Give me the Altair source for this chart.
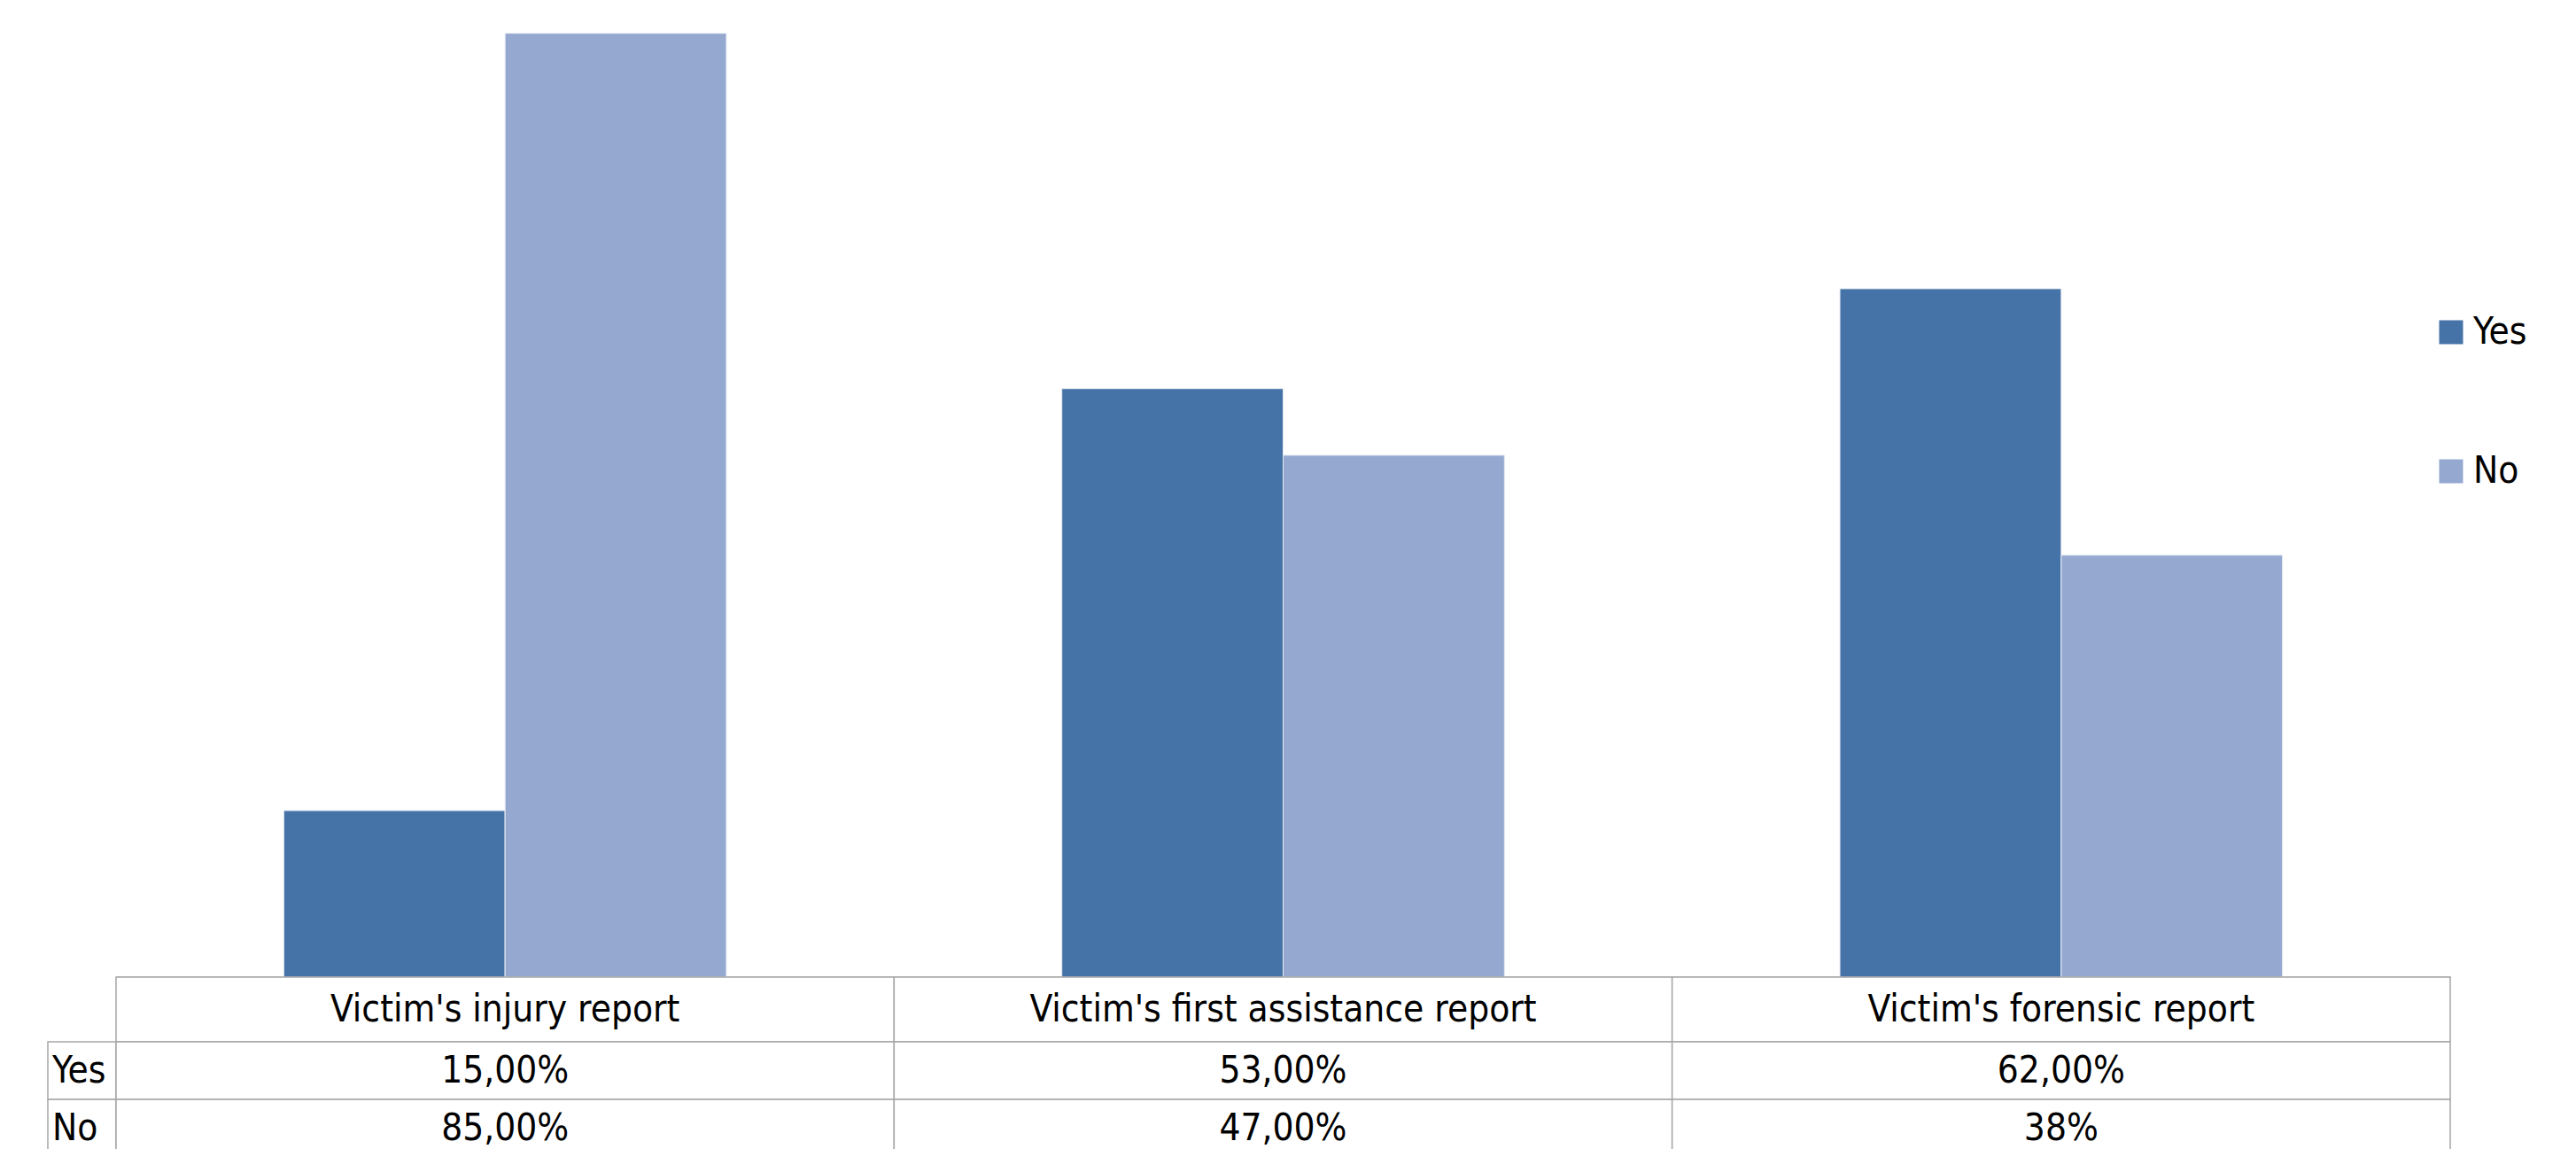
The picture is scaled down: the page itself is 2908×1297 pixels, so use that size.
import altair as alt
import pandas as pd

# Survey data: share of cases where each report was / was not present
categories = ["Victim's injury report", "Victim's first assistance report", "Victim's forensic report"]
series = ["Yes", "No"]
yes_values = [0.15, 0.53, 0.62]
no_values = [0.85, 0.47, 0.38]
yes_labels = ["15,00%", "53,00%", "62,00%"]
no_labels = ["85,00%", "47,00%", "38%"]

colors = ["#4573A7", "#95A9D0"]
FONT = "Liberation Sans Narrow, DejaVu Sans Condensed, sans-serif"
GRID = "#A6A6A6"

bars_df = pd.DataFrame({
    "category": categories * 2,
    "series": ["Yes"] * 3 + ["No"] * 3,
    "value": yes_values + no_values,
})
table_df = pd.DataFrame({
    "category": categories * 2,
    "row": ["Yes"] * 3 + ["No"] * 3,
    "label": yes_labels + no_labels,
})
header_df = pd.DataFrame({"category": categories})
rowhead_df = pd.DataFrame({"row": series})

W = 2635
x_scale = alt.Scale(domain=categories, paddingInner=0, paddingOuter=0)
row_scale = alt.Scale(domain=series, paddingInner=0, paddingOuter=0)
x_enc = alt.X("category:N", scale=x_scale, sort=categories, axis=None)
y_row = alt.Y("row:N", scale=row_scale, sort=series, axis=None)

# Clustered columns
bars = alt.Chart(bars_df).mark_bar(stroke="#E6EBF3", strokeWidth=1).encode(
    x=alt.X("category:N", scale=x_scale, sort=categories,
            axis=alt.Axis(labels=False, ticks=False, title=None, grid=False,
                          domainColor="#BFBFBF", domainWidth=3)),
    xOffset=alt.XOffset("series:N", sort=series,
                        scale=alt.Scale(domain=series, paddingInner=0, paddingOuter=0.758)),
    y=alt.Y("value:Q", scale=alt.Scale(domain=[0, 0.88], nice=False, zero=True), axis=None),
    color=alt.Color("series:N", sort=series,
                    scale=alt.Scale(domain=series, range=colors),
                    legend=alt.Legend(orient="none", legendX=2615, legendY=354, title=None,
                                      symbolType="square", symbolSize=729, symbolStrokeWidth=0,
                                      labelFont=FONT, labelFontSize=42, labelColor="black",
                                      rowPadding=115, labelOffset=4)),
).properties(width=W, height=1103)

# Data table: header row with category names
header_cells = alt.Chart(header_df).mark_rect(fill="white", stroke=GRID, strokeWidth=1.5).encode(x=x_enc)
header_text = alt.Chart(header_df).mark_text(font=FONT, fontSize=42, color="black").encode(
    x=x_enc, text="category:N")
header = alt.layer(header_cells, header_text).properties(width=W, height=73)

# Data table: value rows with their row labels
row_cells = alt.Chart(rowhead_df).mark_rect(fill="white", stroke=GRID, strokeWidth=1.5).encode(
    x=alt.value(-77), x2=alt.value(0), y=y_row)
row_text = alt.Chart(rowhead_df).mark_text(align="left", font=FONT, fontSize=42, color="black").encode(
    x=alt.value(-72), y=y_row, text="row:N")
body_cells = alt.Chart(table_df).mark_rect(fill="white", stroke=GRID, strokeWidth=1.5).encode(
    x=x_enc, y=y_row)
body_text = alt.Chart(table_df).mark_text(font=FONT, fontSize=42, color="black").encode(
    x=x_enc, y=y_row, text="label:N")
body = alt.layer(row_cells, row_text, body_cells, body_text).properties(width=W, height=130)

chart = alt.vconcat(bars, header, body, spacing=0, bounds="flush").properties(
    padding={"left": 53, "top": 0, "right": 5, "bottom": 5},
    background="white",
).configure(font=FONT).configure_view(stroke="transparent", strokeWidth=0)

chart.save("out.html", embed_options={"renderer": "svg", "actions": False})
